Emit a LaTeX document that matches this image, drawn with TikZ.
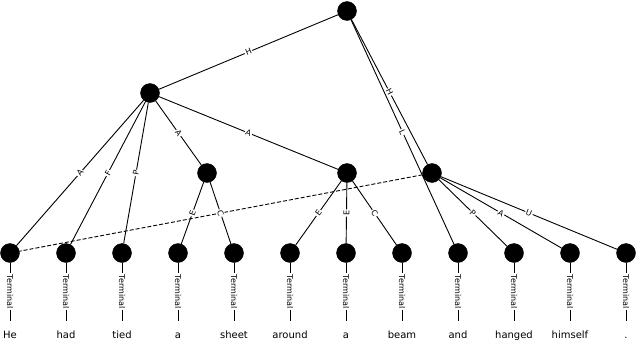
\documentclass[tikz,border=0pt]{standalone}
\usepackage{fontspec}
\setmainfont{DejaVu Sans}
\tikzset{
  unit/.style={
    circle,
    fill=black,
    draw=black,
    minimum size=19pt,
    inner sep=0pt
  },
  word/.style={
    anchor=base,
    font=\fontsize{10}{12}\selectfont,
    text height=7.5pt,
    text depth=2pt,
    inner sep=1pt,
    outer ysep=9pt
  },
  link/.style={line width=0.9pt},
  remote/.style={line width=0.9pt, dash pattern=on 4pt off 2pt},
  lbl/.style={midway, sloped, fill=white, inner sep=1pt, font=\fontsize{8}{8}\selectfont},
  termlbl/.style={midway, rotate=-90, fill=white, inner sep=1.5pt, font=\fontsize{8}{8}\selectfont}
}

\begin{document}
\begin{tikzpicture}[x=1pt, y=-1pt]
\useasboundingbox (0,0) rectangle (640,340);

% units
\node[unit] (root) at (347,11) {};
\node[unit] (p1) at (150,93) {};
\node[unit] (c1) at (207,173) {};
\node[unit] (c2) at (347,173) {};
\node[unit] (p2) at (432,173) {};

% terminals
\node[unit] (t1) at (10,253) {};
\node[unit] (t2) at (66,253) {};
\node[unit] (t3) at (122,253) {};
\node[unit] (t4) at (178,253) {};
\node[unit] (t5) at (234,253) {};
\node[unit] (t6) at (290,253) {};
\node[unit] (t7) at (346,253) {};
\node[unit] (t8) at (402,253) {};
\node[unit] (t9) at (458,253) {};
\node[unit] (t10) at (514,253) {};
\node[unit] (t11) at (570,253) {};
\node[unit] (t12) at (626,253) {};

% words
\node[word] (w1) at (10,338) {He};
\node[word] (w2) at (66,338) {had};
\node[word] (w3) at (122,338) {tied};
\node[word] (w4) at (178,338) {a};
\node[word] (w5) at (234,338) {sheet};
\node[word] (w6) at (290,338) {around};
\node[word] (w7) at (346,338) {a};
\node[word] (w8) at (402,338) {beam};
\node[word] (w9) at (458,338) {and};
\node[word] (w10) at (514,338) {hanged};
\node[word] (w11) at (570,338) {himself};
\node[word] (w12) at (626,338) {.};

% remote edge
\draw[remote] (p2) -- (t1);

\draw[link] (root) -- node[lbl] {H} (p1);
\draw[link] (root) -- node[lbl] {H} (p2);
\draw[link] (root) -- node[lbl] {L} (t9);

\draw[link] (p1) -- node[lbl] {A} (t1);
\draw[link] (p1) -- node[lbl] {F} (t2);
\draw[link] (p1) -- node[lbl] {P} (t3);
\draw[link] (p1) -- node[lbl] {A} (c1);
\draw[link] (p1) -- node[lbl] {A} (c2);

\draw[link] (c1) -- node[lbl] {E} (t4);
\draw[link] (c1) -- node[lbl] {C} (t5);

\draw[link] (c2) -- node[lbl] {E} (t6);
\draw[link] (c2) -- node[lbl] {E} (t7);
\draw[link] (c2) -- node[lbl] {C} (t8);

\draw[link] (p2) -- node[lbl] {P} (t10);
\draw[link] (p2) -- node[lbl] {A} (t11);
\draw[link] (p2) -- node[lbl] {U} (t12);

% terminal edges
\draw[link] (t1) -- node[termlbl] {Terminal} (w1);
\draw[link] (t2) -- node[termlbl] {Terminal} (w2);
\draw[link] (t3) -- node[termlbl] {Terminal} (w3);
\draw[link] (t4) -- node[termlbl] {Terminal} (w4);
\draw[link] (t5) -- node[termlbl] {Terminal} (w5);
\draw[link] (t6) -- node[termlbl] {Terminal} (w6);
\draw[link] (t7) -- node[termlbl] {Terminal} (w7);
\draw[link] (t8) -- node[termlbl] {Terminal} (w8);
\draw[link] (t9) -- node[termlbl] {Terminal} (w9);
\draw[link] (t10) -- node[termlbl] {Terminal} (w10);
\draw[link] (t11) -- node[termlbl] {Terminal} (w11);
\draw[link] (t12) -- node[termlbl] {Terminal} (w12);
\end{tikzpicture}
\end{document}
